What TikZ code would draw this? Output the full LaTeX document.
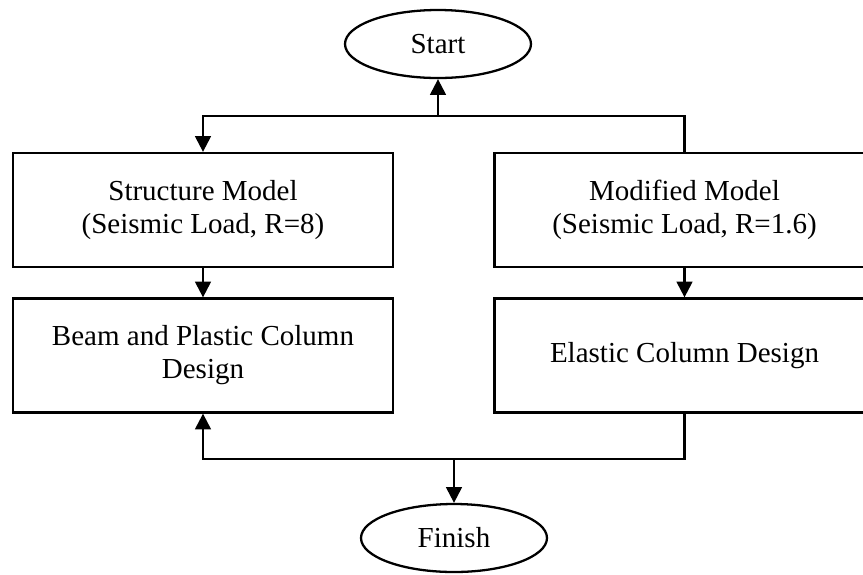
\documentclass[tikz,border=0pt]{standalone}
\usepackage{fontspec}
\setmainfont{Liberation Serif}
\usepackage{tikz}
\usetikzlibrary{shapes.geometric, arrows.meta, positioning, calc}
\tikzstyle{terminal} = [ellipse, minimum width=3.72cm, minimum height=1.36cm, text centered, draw=black, line width=1.3pt]
\tikzstyle{process} = [rectangle, minimum width=7.6cm, minimum height=2.28cm, align=center, draw=black, line width=1.3pt]
\tikzstyle{arrow} = [line width=1.3pt, -{Triangle[length=9pt,width=9pt]}]

\begin{document}
\begin{tikzpicture}[node distance=2.91cm, font=\fontsize{16.5}{18.8}\selectfont]
    \useasboundingbox (0,0) rectangle (17.26,-11.48);
    \node (start) [terminal] at (8.76,-0.88) {Start};
    \node (model) [process] at (4.06,-4.20) {Structure Model\\(Seismic Load, R=8)};
    \node (design) [process, below of=model] {Beam and Plastic Column\\Design};
    \node (modified) [process, right of=model, xshift=6.72cm] {Modified Model\\(Seismic Load, R=1.6)};
    \node (elastic) [process, below of=modified] {Elastic Column Design};
    \node (finish) [terminal] at (9.08,-10.76) {Finish};

    % Top split
    \coordinate (split) at (8.76,-2.32);
    \draw [arrow] (split) -- (start);
    \draw [arrow] (modified.north) |- (split) -| (model.north);
    \draw [arrow] (model) -- (design);
    \draw [arrow] (modified) -- (elastic);
    % Bottom merge
    \coordinate (merge) at (9.08,-9.18);
    \draw [arrow] (elastic.south) |- (merge) -| (design.south);
    \draw [arrow] (merge) -- (finish);
  \end{tikzpicture}
\end{document}
